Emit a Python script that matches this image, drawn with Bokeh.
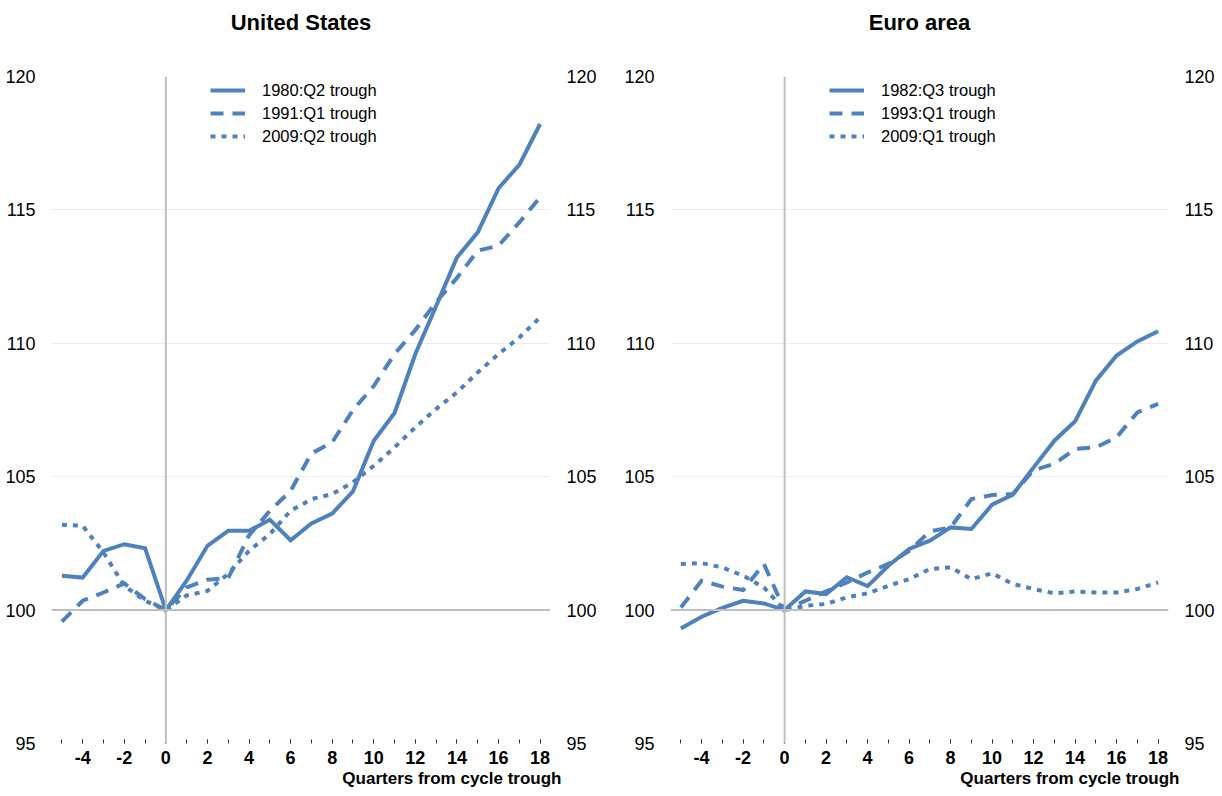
from bokeh.plotting import figure
from bokeh.layouts import row
from bokeh.models import Range1d, LinearAxis, FixedTicker, Span, Legend, LegendItem, Title
from bokeh.embed import file_html
from bokeh.resources import INLINE

# Quarters relative to the cycle trough (trough = 0), index = 100 at trough
quarters = list(range(-5, 19))

us_1980 = [101.29, 101.22, 102.22, 102.47, 102.32, 100.0, 101.1, 102.41, 102.97, 102.97,
           103.39, 102.62, 103.25, 103.62, 104.45, 106.35, 107.39, 109.6, 111.4, 113.22,
           114.16, 115.81, 116.69, 118.22]
us_1991 = [99.57, 100.35, 100.66, 101.0, 100.41, 100.0, 100.85, 101.14, 101.2, 102.8,
           103.72, 104.47, 105.87, 106.29, 107.5, 108.4, 109.6, 110.5, 111.55, 112.45,
           113.47, 113.66, 114.53, 115.47]
us_2009 = [103.2, 103.16, 102.16, 100.91, 100.35, 100.0, 100.55, 100.72, 101.36, 102.22,
           102.85, 103.72, 104.16, 104.35, 104.79, 105.41, 106.1, 106.85, 107.54, 108.16,
           108.91, 109.6, 110.22, 110.97]

ea_1982 = [99.31, 99.75, 100.08, 100.35, 100.25, 100.0, 100.7, 100.6, 101.23, 100.9,
           101.66, 102.29, 102.6, 103.1, 103.04, 103.95, 104.33, 105.35, 106.35, 107.08,
           108.6, 109.54, 110.07, 110.45]
ea_1993 = [100.1, 101.1, 100.88, 100.75, 101.73, 100.0, 100.35, 100.7, 101.04, 101.41,
           101.73, 102.22, 102.95, 103.1, 104.16, 104.31, 104.35, 105.25, 105.48, 106.04,
           106.1, 106.48, 107.41, 107.73]
ea_2009 = [101.73, 101.76, 101.6, 101.29, 100.85, 100.0, 100.16, 100.23, 100.48, 100.63,
           100.91, 101.16, 101.54, 101.6, 101.16, 101.38, 100.98, 100.79, 100.63, 100.7,
           100.66, 100.66, 100.79, 101.04]

us_labels = ["1980:Q2 trough", "1991:Q1 trough", "2009:Q2 trough"]
ea_labels = ["1982:Q3 trough", "1993:Q1 trough", "2009:Q1 trough"]

x_tick_values = list(range(-4, 19, 2))
x_tick_labels = {t: str(t) for t in x_tick_values}
y_tick_values = [95, 100, 105, 110, 115, 120]
x_axis_title = "Quarters from cycle trough"

FONT = "Liberation Sans"
BLUE = "#4f81bd"
DASHES = ["solid", "13 9", "5 6"]


def style_y_axis(ax):
    ax.ticker = FixedTicker(ticks=y_tick_values)
    ax.axis_line_color = None
    ax.major_tick_line_color = None
    ax.minor_tick_line_color = None
    ax.major_label_text_font = FONT
    ax.major_label_text_font_size = "18px"
    ax.major_label_text_color = "#000000"
    ax.major_label_standoff = 10


def make_panel(title, series, labels, width, border_left, border_right):
    p = figure(width=width, height=796,
               x_range=Range1d(-5.5, 18.5), y_range=Range1d(95, 120),
               output_backend="svg", toolbar_location=None,
               min_border_left=border_left, min_border_right=border_right,
               min_border_top=76, min_border_bottom=53)
    p.outline_line_color = None
    p.background_fill_color = "white"
    p.border_fill_color = "white"

    # heading sits well above the frame: an empty spacer band first, then the text
    p.title.text = ""
    p.title.standoff = 0
    spacer = Title(text=" ", text_font=FONT, text_font_size="10px", standoff=29)
    p.add_layout(spacer, "above")
    heading = Title(text=title, align="center", vertical_align="bottom", standoff=0,
                    text_font=FONT, text_font_size="22px", text_font_style="bold",
                    text_color="#000000")
    p.add_layout(heading, "above")

    p.xgrid.grid_line_color = None
    p.ygrid.ticker = FixedTicker(ticks=y_tick_values)
    p.ygrid.grid_line_color = "#ececf6"
    p.ygrid.grid_line_width = 1

    xa = p.xaxis[0]
    xa.ticker = FixedTicker(ticks=x_tick_values, minor_ticks=quarters)
    xa.major_label_overrides = x_tick_labels
    xa.axis_line_color = None
    xa.major_tick_in = 4
    xa.major_tick_out = 0
    xa.minor_tick_in = 4
    xa.minor_tick_out = 0
    xa.major_tick_line_color = "#333333"
    xa.minor_tick_line_color = "#333333"
    xa.major_label_text_font = FONT
    xa.major_label_text_font_size = "18px"
    xa.major_label_text_font_style = "bold"
    xa.major_label_text_color = "#000000"
    xa.major_label_standoff = 7

    style_y_axis(p.yaxis[0])
    right_axis = LinearAxis()
    style_y_axis(right_axis)
    p.add_layout(right_axis, "right")

    p.add_layout(Span(location=100, dimension="width", line_color="#bfbfbf", line_width=2))
    p.add_layout(Span(location=0, dimension="height", line_color="#bfbfbf", line_width=2))

    items = []
    for ys, dash, lab in zip(series, DASHES, labels):
        r = p.line(quarters, ys, line_color=BLUE, line_width=4, line_dash=dash,
                   line_join="miter", line_cap="butt")
        items.append(LegendItem(label=lab, renderers=[r]))

    legend = Legend(items=items, location=(159, 597),
                    glyph_width=35, glyph_height=20, label_height=20,
                    label_standoff=17, spacing=3, padding=0, margin=0,
                    border_line_color=None, background_fill_alpha=0,
                    label_text_font=FONT, label_text_font_size="16.5px",
                    label_text_color="#000000")
    p.add_layout(legend)

    # x-axis caption, right-aligned just past the plot frame
    caption = Title(text=x_axis_title, align="right", offset=-11, standoff=0,
                    text_font=FONT, text_font_size="17px", text_font_style="bold",
                    text_color="#000000")
    p.add_layout(caption, "below")
    return p


left = make_panel("United States", [us_1980, us_1991, us_2009], us_labels, 610, 51, 60)
right = make_panel("Euro area", [ea_1982, ea_1993, ea_2009], ea_labels, 612, 60, 54)

layout = row(left, right)
open("out.html", "w").write(file_html(layout, INLINE))
